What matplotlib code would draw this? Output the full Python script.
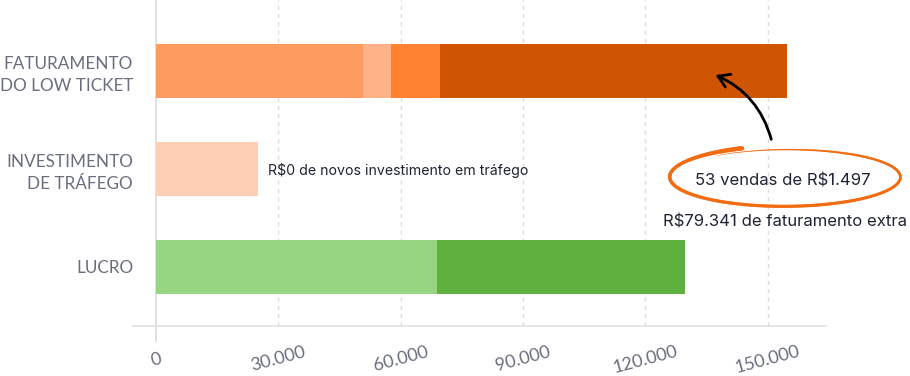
import matplotlib.pyplot as plt
import numpy as np
from matplotlib.patches import FancyArrowPatch
from matplotlib.collections import LineCollection

# dados (R$)
categorias = ['FATURAMENTO\nDO LOW TICKET', 'INVESTIMENTO\nDE TRÁFEGO', 'LUCRO']
faturamento = [50700, 6850, 12100, 85100]
investimento = [25000]
lucro = [68900, 60800]
ticks = [0, 30000, 60000, 90000, 120000, 150000]
tick_labels = ['0', '30.000', '60.000', '90.000', '120.000', '150.000']

cores_fat = ['#fe9b5f', '#ffb288', '#fe8231', '#d05502']
cores_inv = ['#ffcfb5']
cores_luc = ['#98d581', '#5eb13e']

plt.rcParams['font.family'] = ['Lato', 'DejaVu Sans']

W, H = 910, 376
fig = plt.figure(figsize=(W / 100, H / 100), dpi=100)
ax = fig.add_axes([133 / W, 50 / H, (826 - 133) / W, 326 / H])

# barras empilhadas
for i, (vals, cores) in enumerate([(faturamento, cores_fat),
                                   (investimento, cores_inv),
                                   (lucro, cores_luc)]):
    left = 0
    for v, c in zip(vals, cores):
        ax.barh(i, v, left=left, height=0.55, color=c, zorder=3)
        left += v

px = 611.7 / 150000  # pixels por real
ax.set_xlim(-23 / px, 670 / px)
ax.set_ylim(2.602, -0.724)

# grade tracejada
for t in ticks[1:]:
    ax.axvline(t, color='#dcdcdc', lw=1, ls=(0, (3, 3)), zorder=1)
ax.plot([0, 0], [-0.724, 2.75], color='#dcdcdc', lw=1.2, zorder=2, clip_on=False)

for s in ['top', 'right', 'left']:
    ax.spines[s].set_visible(False)
ax.spines['bottom'].set_color('#dde1e2')
ax.spines['bottom'].set_linewidth(1.2)

ax.set_xticks(ticks)
ax.set_xticklabels(tick_labels, rotation=15, fontsize=13, color='#6a6d7d')
for lab in ax.get_xticklabels():
    lab.set_va('center')
    lab.set_ha('center')
ax.tick_params(axis='x', length=0, pad=24)

ax.set_yticks(range(3))
ax.set_yticklabels(categorias, fontsize=12.3, color='#6b6e7e', linespacing=1.45)
ax.tick_params(axis='y', length=0, pad=0)

# anotações em pixels
ov = fig.add_axes([0, 0, 1, 1])
ov.set_xlim(0, W)
ov.set_ylim(H, 0)
ov.axis('off')
ov.patch.set_alpha(0)

fonte = ['Inter', 'DejaVu Sans']
ov.text(268, 170, 'R$0 de novos investimento em tráfego', fontsize=10.2, color='#1f2333',
        va='center', ha='left', family=fonte)
ov.text(783, 181, '53 vendas de R$1.497', fontsize=12, color='#1f2333',
        va='center', ha='center', family=fonte)
ov.text(785, 222, 'R$79.341 de faturamento extra', fontsize=12, color='#1f2333',
        va='center', ha='center', family=fonte)

# elipse desenhada à mão
t = np.radians(np.linspace(112, 488, 300))
a = np.linspace(117, 113, t.size)
b = np.linspace(31, 27, t.size)
xs = 786 + a * np.cos(t)
ys = 177 - b * np.sin(t)
pts = np.column_stack([xs, ys]).reshape(-1, 1, 2)
segs = np.concatenate([pts[:-1], pts[1:]], axis=1)
lw = np.interp(np.linspace(0, 1, len(segs)), [0, 0.1, 0.5, 0.8, 1], [3.2, 2.4, 2.2, 1.6, 0.3])
ov.add_collection(LineCollection(segs, linewidths=lw, colors='#f26c12', capstyle='round'))

# seta
seta = FancyArrowPatch((772, 142), (713, 74), connectionstyle='arc3,rad=0.25',
                       arrowstyle='->,head_length=8,head_width=5', lw=2, color='black',
                       mutation_scale=1)
ov.add_patch(seta)

fig.savefig('out.png', dpi=100)
